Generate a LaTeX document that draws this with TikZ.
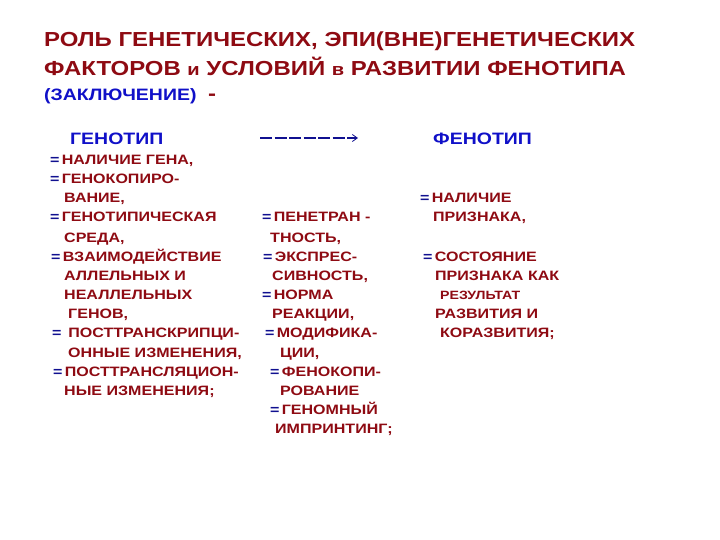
\documentclass[tikz,border=0pt]{standalone}
\usepackage{fontspec}
\setmainfont{Liberation Sans}[FakeStretch=1.18]
\usetikzlibrary{arrows.meta}
\definecolor{dred}{HTML}{8E0A12}
\definecolor{tblue}{HTML}{1010C8}
\definecolor{eqblue}{HTML}{101090}
\newcommand{\eqs}{{\color{eqblue}=}\,}
\tikzset{
  title/.style={anchor=base west, inner sep=0pt, font=\bfseries\fontsize{20.3}{24}\selectfont, text=dred},
  head/.style={anchor=base west, inner sep=0pt, font=\bfseries\fontsize{16.5}{18}\selectfont, text=tblue},
  ln/.style={anchor=base west, inner sep=0pt, font=\bfseries\fontsize{13.6}{15}\selectfont, text=dred},
  lnsmall/.style={ln, font=\bfseries\fontsize{12}{14}\selectfont},
}
\begin{document}
\begin{tikzpicture}[x=1pt,y=-1pt]
\useasboundingbox[fill=white] (0,0) rectangle (720,540);
% title
\node[title] (t1) at (44,47) {РОЛЬ ГЕНЕТИЧЕСКИХ, ЭПИ(ВНЕ)ГЕНЕТИЧЕСКИХ};
\node[title] (t2) at (44,76) {ФАКТОРОВ {\fontsize{17}{18}\selectfont и} УСЛОВИЙ {\fontsize{17}{18}\selectfont в} РАЗВИТИИ ФЕНОТИПА};
\node[head] (t3) at (44,101) {(ЗАКЛЮЧЕНИЕ)};
\node[title] (t4) at (208,101) {-};
% headers
\node[head] (geno) at (70,145) {ГЕНОТИП};
\node[head] (feno) at (433,145) {ФЕНОТИП};
\coordinate (arA) at (260,138);
\coordinate (arB) at (358,138);
\draw[eqblue, line width=1.2pt, dash pattern=on 12pt off 2.5pt, -{Straight Barb[length=5pt,width=7pt,line width=0.8pt]}] (arA) -- (arB);
% left column
\node[ln] (a1) at (50,165) {\eqs НАЛИЧИЕ ГЕНА,};
\node[ln] (a2) at (50,184) {\eqs ГЕНОКОПИРО-};
\node[ln] (a3) at (64,203) {ВАНИЕ,};
\node[ln] (a4) at (50,222) {\eqs ГЕНОТИПИЧЕСКАЯ};
\node[ln] (a5) at (64,242) {СРЕДА,};
\node[ln] (a6) at (51,261) {\eqs ВЗАИМОДЕЙСТВИЕ};
\node[ln] (a7) at (64,280) {АЛЛЕЛЬНЫХ И};
\node[ln] (a8) at (64,299) {НЕАЛЛЕЛЬНЫХ};
\node[ln] (a9) at (68,318) {ГЕНОВ,};
\node[ln] (a10) at (52,337) {\eqs\ ПОСТТРАНСКРИПЦИ-};
\node[ln] (a11) at (68,357) {ОННЫЕ ИЗМЕНЕНИЯ,};
\node[ln] (a12) at (53,376) {\eqs ПОСТТРАНСЛЯЦИОН-};
\node[ln] (a13) at (64,395) {НЫЕ ИЗМЕНЕНИЯ;};
% middle column
\node[ln] (b1) at (262,222) {\eqs ПЕНЕТРАН -};
\node[ln] (b2) at (270,242) {ТНОСТЬ,};
\node[ln] (b3) at (263,261) {\eqs ЭКСПРЕС-};
\node[ln] (b4) at (272,280) {СИВНОСТЬ,};
\node[ln] (b5) at (262,299) {\eqs НОРМА};
\node[ln] (b6) at (272,318) {РЕАКЦИИ,};
\node[ln] (b7) at (265,337) {\eqs МОДИФИКА-};
\node[ln] (b8) at (280,357) {ЦИИ,};
\node[ln] (b9) at (270,376) {\eqs ФЕНОКОПИ-};
\node[ln] (b10) at (280,395) {РОВАНИЕ};
\node[ln] (b11) at (270,414) {\eqs ГЕНОМНЫЙ};
\node[ln] (b12) at (275,433) {ИМПРИНТИНГ;};
% right column
\node[ln] (c1) at (420,203) {\eqs НАЛИЧИЕ};
\node[ln] (c2) at (433,222) {ПРИЗНАКА,};
\node[ln] (c3) at (423,261) {\eqs СОСТОЯНИЕ};
\node[ln] (c4) at (435,280) {ПРИЗНАКА КАК};
\node[lnsmall] (c5) at (440,299) {РЕЗУЛЬТАТ};
\node[ln] (c6) at (435,318) {РАЗВИТИЯ И};
\node[ln] (c7) at (440,337) {КОРАЗВИТИЯ;};
\end{tikzpicture}
\end{document}
